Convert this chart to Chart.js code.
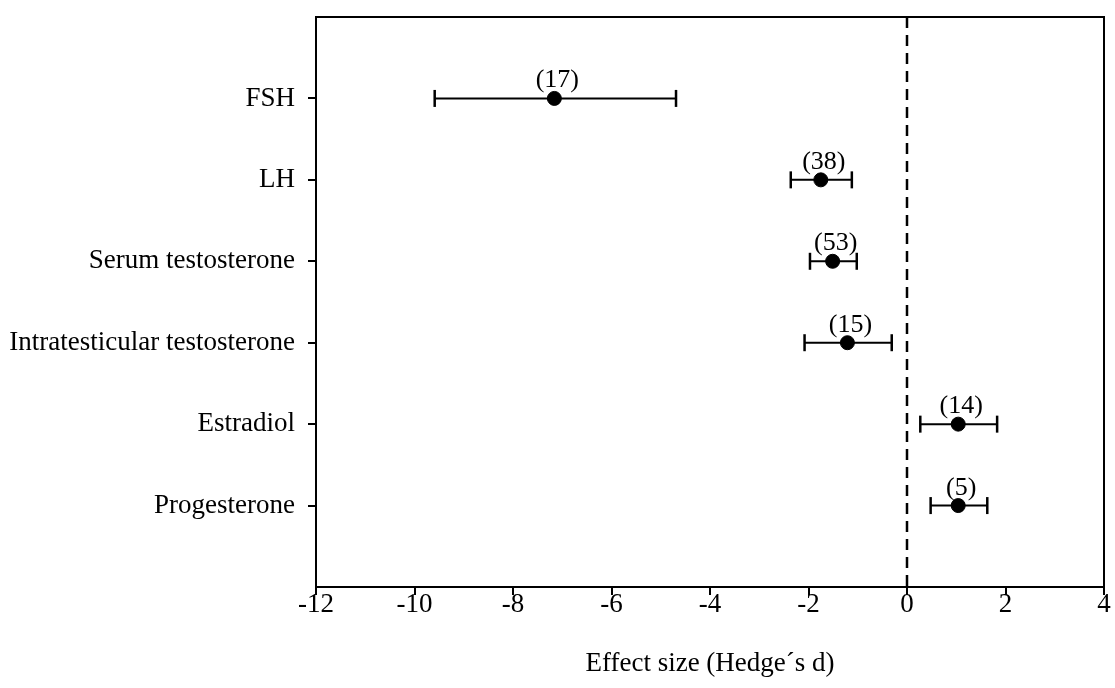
<!DOCTYPE html>
<html>
<head>
<meta charset="utf-8">
<script src="https://cdn.jsdelivr.net/npm/chart.js@4.4.1/dist/chart.umd.min.js"></script>
<style>
html,body{margin:0;padding:0;background:#fff;}
#wrap{width:1115px;height:688px;}
</style>
</head>
<body>
<div id="wrap"><canvas id="c" width="1115" height="688"></canvas></div>
<script>
const categories = ["FSH", "LH", "Serum testosterone", "Intratesticular testosterone", "Estradiol", "Progesterone"];
const effectSize = [-7.16, -1.75, -1.51, -1.21, 1.04, 1.04];
const lowerCI = [-9.59, -2.36, -1.97, -2.08, 0.27, 0.48];
const upperCI = [-4.69, -1.12, -1.02, -0.31, 1.83, 1.63];
const studyCounts = ["(17)", "(38)", "(53)", "(15)", "(14)", "(5)"];
const xTicks = [-12, -10, -8, -6, -4, -2, 0, 2, 4];

const FONT = "'Liberation Serif', 'Times New Roman', serif";
const FS = 27;
const pos = categories.map((c, i) => i + 1);

const errData = [];
categories.forEach((c, i) => {
  errData.push({x: lowerCI[i], y: pos[i]});
  errData.push({x: upperCI[i], y: pos[i]});
  errData.push({x: null, y: null});
});
const pointData = categories.map((c, i) => ({x: effectSize[i], y: pos[i]}));

const boxPlugin = {
  id: 'box',
  afterDraw(chart) {
    const {ctx, chartArea: a} = chart;
    ctx.save();
    ctx.strokeStyle = '#000';
    ctx.lineWidth = 2;
    ctx.strokeRect(a.left, a.top, a.right - a.left, a.bottom - a.top);
    const meta = chart.getDatasetMeta(2);
    ctx.fillStyle = '#000';
    ctx.font = "26px " + FONT;
    ctx.textAlign = 'center';
    ctx.textBaseline = 'alphabetic';
    meta.data.forEach((el, i) => {
      ctx.fillText(studyCounts[i], el.x + 3, el.y - 11);
    });
    ctx.restore();
  }
};

new Chart(document.getElementById('c'), {
  type: 'line',
  data: {
    datasets: [
      {
        data: [{x: 0, y: 0}, {x: 0, y: 7}],
        borderColor: '#000',
        borderWidth: 2.5,
        borderDash: [11, 7],
        pointRadius: 0,
        order: 3
      },
      {
        data: errData,
        borderColor: '#000',
        borderWidth: 2,
        spanGaps: false,
        pointStyle: 'line',
        rotation: 90,
        pointRadius: errData.map(d => d.x === null ? 0 : 8.5),
        pointBorderWidth: 2.5,
        pointBorderColor: '#000',
        order: 2
      },
      {
        data: pointData,
        showLine: false,
        pointStyle: 'circle',
        pointRadius: 7,
        pointBackgroundColor: '#000',
        pointBorderColor: '#000',
        order: 1
      }
    ]
  },
  options: {
    responsive: false,
    animation: false,
    layout: {padding: {top: 17, right: 9, left: 0, bottom: 0}},
    plugins: {legend: {display: false}, tooltip: {enabled: false}},
    scales: {
      x: {
        type: 'linear',
        min: -12,
        max: 4,
        afterBuildTicks(scale) { scale.ticks = xTicks.map(v => ({value: v})); },
        afterFit(scale) { scale.height = 101; },
        grid: {display: true, drawOnChartArea: false, drawTicks: true, tickLength: 8, color: '#000', lineWidth: 2},
        border: {display: true, color: '#000', width: 2},
        ticks: {color: '#000', font: {family: FONT, size: FS}, padding: -6, maxRotation: 0},
        title: {display: true, text: 'Effect size (Hedge\u00b4s d)', color: '#000', font: {family: FONT, size: FS}, padding: {top: 10, bottom: 8}}
      },
      y: {
        type: 'linear',
        min: 0,
        max: 7,
        reverse: true,
        afterBuildTicks(scale) { scale.ticks = pos.map(v => ({value: v})); },
        afterFit(scale) { scale.width = 316; scale.paddingTop = 0; scale.paddingBottom = 0; },
        grid: {display: true, drawOnChartArea: false, drawTicks: true, tickLength: 8, color: '#000', lineWidth: 2},
        border: {display: true, color: '#000', width: 2},
        ticks: {
          color: '#000',
          font: {family: FONT, size: FS},
          padding: 13,
          callback: (v) => categories[v - 1] || ''
        }
      }
    }
  },
  plugins: [boxPlugin]
});
</script>
</body>
</html>
